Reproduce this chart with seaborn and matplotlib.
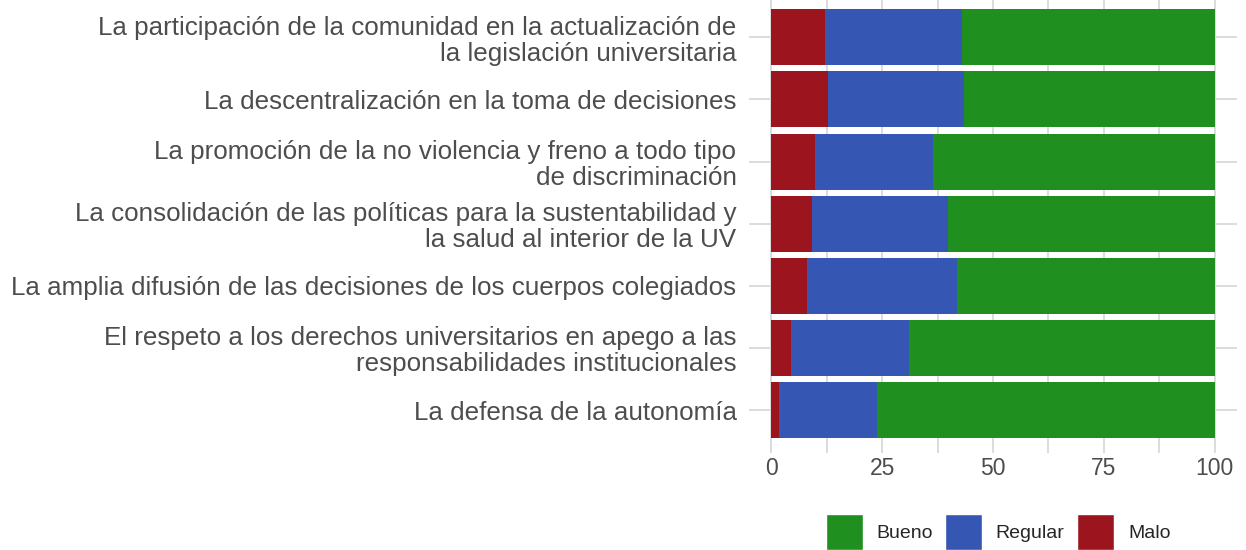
import matplotlib
matplotlib.use("Agg")
import matplotlib.pyplot as plt
import seaborn as sns
import numpy as np
import pandas as pd
from matplotlib.patches import Patch

categorias = [
    "La participación de la comunidad en la actualización de\nla legislación universitaria",
    "La descentralización en la toma de decisiones",
    "La promoción de la no violencia y freno a todo tipo\nde discriminación",
    "La consolidación de las políticas para la sustentabilidad y\nla salud al interior de la UV",
    "La amplia difusión de las decisiones de los cuerpos colegiados",
    "El respeto a los derechos universitarios en apego a las\nresponsabilidades institucionales",
    "La defensa de la autonomía",
]
malo = [12.2, 12.9, 9.9, 9.2, 8.1, 4.5, 1.8]
regular = [30.8, 30.5, 26.6, 30.6, 33.8, 26.6, 22.1]
bueno = [57.0, 56.6, 63.5, 60.2, 58.1, 68.9, 76.1]

colores = {"Bueno": "#1f8f1f", "Regular": "#3557b3", "Malo": "#9c151e"}

df = pd.DataFrame({"categoria": categorias, "Malo": malo,
                   "Regular": regular, "Bueno": bueno})
df["c_malo"] = df["Malo"]
df["c_regular"] = df["Malo"] + df["Regular"]
df["c_bueno"] = df["c_regular"] + df["Bueno"]

sns.set_style("white")
plt.rcParams["font.family"] = ["Liberation Sans", "DejaVu Sans"]

fig = plt.figure(figsize=(12.46, 5.5), dpi=100)
ax = fig.add_axes([749 / 1246, 1 - 453 / 550, (1237 - 749) / 1246, 453 / 550])

for col, nombre in [("c_bueno", "Bueno"), ("c_regular", "Regular"), ("c_malo", "Malo")]:
    sns.barplot(data=df, x=col, y="categoria", orient="h", color=colores[nombre],
                width=0.9, saturation=1, linewidth=0, ax=ax, zorder=2)

ax.set_xlim(-5, 105)
ax.set_ylim(6.69, -0.6)
ax.set_xticks([0, 25, 50, 75, 100])
ax.set_xticks([12.5, 37.5, 62.5, 87.5], minor=True)
ax.grid(True, which="both", color="#d9d9d9", linewidth=1.3, zorder=0)
ax.set_axisbelow(True)
for s in ax.spines.values():
    s.set_visible(False)
ax.set_xlabel("")
ax.set_ylabel("")
ax.tick_params(axis="x", which="both", length=0, pad=3, labelsize=16.5, labelcolor="#4d4d4d")
ax.tick_params(axis="y", length=5, width=1.3, color="#d9d9d9", pad=4,
               labelsize=18.7, labelcolor="#4d4d4d")
for t in ax.get_yticklabels():
    t.set_linespacing(1.1)

handles = [Patch(facecolor=colores[n], label=n) for n in ["Bueno", "Regular", "Malo"]]
fig.legend(handles=handles, loc="center", bbox_to_anchor=(998 / 1246, 18 / 550),
           ncol=3, frameon=False, fontsize=14, handlelength=1.9, handleheight=2.55,
           handletextpad=0.7, columnspacing=0.65, borderaxespad=0)

fig.savefig("out.png", dpi=100)
